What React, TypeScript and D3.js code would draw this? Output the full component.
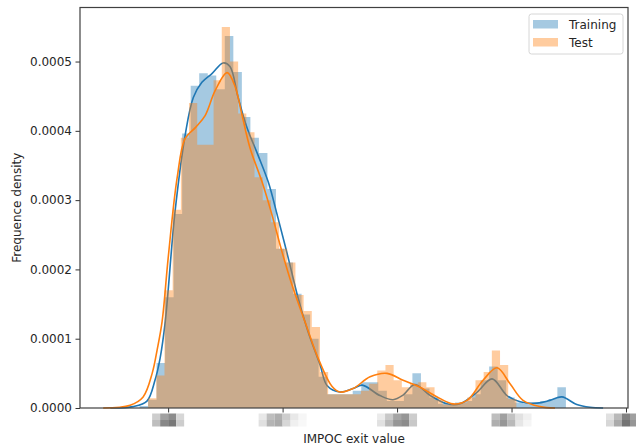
import React, { useEffect, useRef } from 'react'
import * as d3 from 'd3'

// histogram bins (density)
const trainBinStart = 1500
const trainBinWidth = 149
const trainDensity = [
  0.000003, 0.000012, 0.000065, 0.00016, 0.00028, 0.000396, 0.000465, 0.000483, 0.00048, 0.00046,
  0.000537, 0.000485, 0.00042, 0.00039, 0.000368, 0.000316, 0.00023, 0.00021, 0.000165, 0.000135,
  0.0001, 0.000045, 0.00002, 0.00002, 0.00002, 0.000025, 0.000037, 0.000037, 0.000025, 0.00001,
  0.00001, 0.00002, 0.00005, 0.000028, 0.000015, 0.000006, 0.000005, 0.000008, 0.00001, 0.00002,
  0.00004, 0.00006, 0.00004, 0.000015, 0.000008, 0.000006, 0.000008, 0.00001, 0.000013, 0.00003,
]

const testBinStart = 1650
const testBinWidth = 143
const testDensity = [
  0.000014, 0.000047, 0.00017, 0.000286, 0.00039, 0.00044, 0.00038, 0.00038, 0.000473, 0.00055,
  0.0005, 0.000425, 0.000398, 0.000333, 0.0003, 0.000268, 0.00023, 0.00021, 0.000163, 0.00014,
  0.000117, 0.000052, 0.00002, 0.00002, 0.00002, 0.00002, 0.000025, 0.000035, 0.000054, 0.000062,
  0.00004, 0.00003, 0.000035, 0.000037, 0.00003, 0.000012, 0.000005, 0.000006, 0.000008, 0.000015,
  0.00004, 0.000052, 0.000083, 0.000062, 0.000013,
]

// kde curves [value, density]
const trainKde = [
  [990, 0], [1390, 0.000002], [1630, 0.00001], [1770, 0.00004], [1860, 0.000072], [1950, 0.000125],
  [2120, 0.000283], [2300, 0.000395], [2440, 0.000448], [2590, 0.00047], [2770, 0.000483],
  [2960, 0.000498], [3080, 0.000493], [3220, 0.000449], [3380, 0.000404], [3570, 0.000365],
  [3750, 0.000326], [3920, 0.000274], [4100, 0.000216], [4270, 0.000159], [4445, 0.00011],
  [4655, 0.000062], [4780, 0.000032], [5000, 0.000023], [5230, 0.000028], [5390, 0.000033],
  [5700, 0.000018], [5930, 0.000012], [6110, 0.000019], [6310, 0.000034], [6580, 0.000018],
  [6870, 0.000006], [7100, 0.000006], [7400, 0.000023], [7660, 0.000042], [7920, 0.000018],
  [8150, 0.000009], [8445, 0.000007], [8670, 0.000011], [8880, 0.000016], [9140, 0.000005],
  [9370, 0.000001], [9600, 0],
]

const testKde = [
  [865, 0], [1336, 0.000004], [1563, 0.000016], [1721, 0.00005], [1808, 0.000084], [1895, 0.000125],
  [2000, 0.000216], [2157, 0.000332], [2297, 0.000389], [2480, 0.000405], [2646, 0.000422],
  [2821, 0.000458], [3031, 0.000484], [3170, 0.000464], [3293, 0.000422], [3432, 0.000375],
  [3642, 0.000326], [3817, 0.000278], [3991, 0.000225], [4166, 0.000177], [4393, 0.000124],
  [4620, 0.000072], [4865, 0.000031], [5004, 0.000023], [5231, 0.000028], [5528, 0.000045],
  [5825, 0.00005], [6105, 0.00004], [6400, 0.00003], [6700, 0.000016], [6978, 0.000006],
  [7223, 0.000011], [7502, 0.00004], [7747, 0.000058], [7974, 0.000035], [8201, 0.000011],
  [8498, 0.000002], [8760, 0],
]

const xTicks = [2000, 4000, 6000, 8000, 10000]
const yTicks = [0, 0.0001, 0.0002, 0.0003, 0.0004, 0.0005]
const seriesNames = ['Training', 'Test']

// the x tick labels are pixelated in the source: grey levels per cell
const xTickMosaic = [
  [[205, 160, 140, 215], [190, 135, 120, 205]],
  [[232, 190, 175, 205, 232, 246], [224, 180, 170, 215, 240, 248]],
  [[235, 200, 165, 150, 205], [225, 185, 150, 140, 200]],
  [[190, 160, 195, 225, 240], [175, 150, 185, 230, 245]],
  [[225, 185, 130, 160, 200], [215, 170, 115, 150, 190]],
]

const blue = '#1f77b4'
const orange = '#ff7f0e'

const App = () => {
  const ref = useRef<SVGSVGElement>(null)

  useEffect(() => {
    draw()
  }, [])

  const draw = () => {
    const svg = d3.select(ref.current)
    svg.selectAll('*').remove()
    const width = 636,
      height = 447
    const margin = { top: 7.5, right: 8, bottom: 39, left: 80 }

    const x = d3.scaleLinear().domain([460, 10035]).range([margin.left, width - margin.right])
    const y = d3.scaleLinear().domain([0, 0.000578]).range([height - margin.bottom, margin.top])

    const font = "'DejaVu Sans', sans-serif"

    const histPoints = (start: number, w: number, vals: number[]) => {
      const pts = vals.map((v, i) => [start + i * w, v])
      pts.push([start + vals.length * w, vals[vals.length - 1]])
      return pts
    }

    const area = d3
      .area<number[]>()
      .x((d) => x(d[0]))
      .y0(y(0))
      .y1((d) => y(d[1]))
      .curve(d3.curveStepAfter)

    const line = d3
      .line<number[]>()
      .x((d) => x(d[0]))
      .y((d) => y(d[1]))
      .curve(d3.curveCatmullRom.alpha(0.5))

    const plot = svg.append('g')

    // training: hist then kde
    plot
      .append('path')
      .attr('d', area(histPoints(trainBinStart, trainBinWidth, trainDensity)))
      .attr('fill', blue)
      .attr('fill-opacity', 0.4)
    plot
      .append('path')
      .attr('d', line(trainKde))
      .attr('fill', 'none')
      .attr('stroke', blue)
      .attr('stroke-width', 1.6)

    // test
    plot
      .append('path')
      .attr('d', area(histPoints(testBinStart, testBinWidth, testDensity)))
      .attr('fill', orange)
      .attr('fill-opacity', 0.4)
    plot
      .append('path')
      .attr('d', line(testKde))
      .attr('fill', 'none')
      .attr('stroke', orange)
      .attr('stroke-width', 1.6)

    // y axis
    const yAxis = svg
      .append('g')
      .attr('transform', `translate(${margin.left},0)`)
      .call(
        d3
          .axisLeft(y)
          .tickValues(yTicks)
          .tickFormat(d3.format('.4f'))
          .tickSize(4.5)
          .tickPadding(3.5)
      )
    yAxis.select('.domain').remove()
    yAxis.selectAll('line').attr('stroke', '#333')
    yAxis
      .selectAll('text')
      .attr('font-family', font)
      .attr('font-size', 12)
      .attr('fill', '#262626')

    // x axis ticks (labels are pixelated blocks)
    const xAxis = svg
      .append('g')
      .attr('transform', `translate(0,${height - margin.bottom})`)
      .call(d3.axisBottom(x).tickValues(xTicks).tickSize(4.5).tickFormat(() => ''))
    xAxis.select('.domain').remove()
    xAxis.selectAll('line').attr('stroke', '#333')

    const cellW = 8,
      cellH = 6.5
    xTicks.forEach((t, i) => {
      const rows = xTickMosaic[i]
      const cols = rows[0].length
      const x0 = x(t) - (cols * cellW) / 2
      rows.forEach((row, r) => {
        row.forEach((g, c) => {
          svg
            .append('rect')
            .attr('x', x0 + c * cellW)
            .attr('y', height - margin.bottom + 5.5 + r * cellH)
            .attr('width', cellW)
            .attr('height', cellH)
            .attr('fill', d3.rgb(g, g, g).toString())
        })
      })
    })

    // frame
    svg
      .append('rect')
      .attr('x', margin.left)
      .attr('y', margin.top)
      .attr('width', width - margin.left - margin.right)
      .attr('height', height - margin.top - margin.bottom)
      .attr('fill', 'none')
      .attr('stroke', '#404040')
      .attr('stroke-width', 1.2)

    // axis titles
    svg
      .append('text')
      .attr('x', (margin.left + width - margin.right) / 2)
      .attr('y', 442.5)
      .attr('text-anchor', 'middle')
      .attr('font-family', font)
      .attr('font-size', 12)
      .attr('fill', '#262626')
      .text('IMPOC exit value')

    svg
      .append('text')
      .attr('transform', `translate(21,${(margin.top + height - margin.bottom) / 2}) rotate(-90)`)
      .attr('text-anchor', 'middle')
      .attr('font-family', font)
      .attr('font-size', 12)
      .attr('fill', '#262626')
      .text('Frequence density')

    // legend
    const lg = svg.append('g').attr('transform', 'translate(529,14)')
    lg.append('rect')
      .attr('width', 94)
      .attr('height', 40)
      .attr('rx', 2.5)
      .attr('fill', 'white')
      .attr('fill-opacity', 0.8)
      .attr('stroke', '#d6d6d6')
    seriesNames.forEach((name, i) => {
      lg.append('rect')
        .attr('x', 4)
        .attr('y', 6 + i * 18)
        .attr('width', 25)
        .attr('height', 8.5)
        .attr('fill', i === 0 ? blue : orange)
        .attr('fill-opacity', 0.4)
      lg.append('text')
        .attr('x', 40)
        .attr('y', 14.5 + i * 18)
        .attr('font-family', font)
        .attr('font-size', 12)
        .attr('fill', '#262626')
        .text(name)
    })
  }

  return (
    <div>
      <svg
        ref={ref}
        width={636}
        height={447}
        style={{ position: 'absolute', left: 0, top: 0, background: 'white' }}
      ></svg>
    </div>
  )
}

export default App
